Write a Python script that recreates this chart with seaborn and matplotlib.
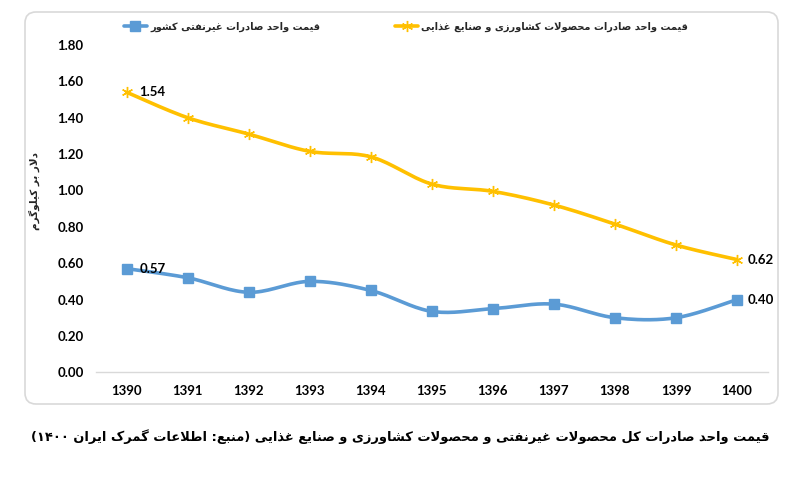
import re
import numpy as np
import pandas as pd
import matplotlib
matplotlib.use("Agg")
import matplotlib.pyplot as plt
import seaborn as sns
from matplotlib.patches import FancyBboxPatch
from matplotlib.lines import Line2D
from matplotlib.transforms import IdentityTransform

# ---------------- data ----------------
years = ["1390", "1391", "1392", "1393", "1394", "1395", "1396", "1397", "1398", "1399", "1400"]
nonoil_price = [0.57, 0.52, 0.44, 0.50, 0.45, 0.335, 0.35, 0.375, 0.30, 0.30, 0.40]
agri_price = [1.54, 1.40, 1.31, 1.215, 1.185, 1.035, 0.995, 0.92, 0.815, 0.70, 0.62]
yticks = [0.0, 0.2, 0.4, 0.6, 0.8, 1.0, 1.2, 1.4, 1.6, 1.8]
label_nonoil = "قیمت واحد صادرات غیرنفتی کشور"
label_agri = "قیمت واحد صادرات محصولات کشاورزی و صنایع غذایی"
ylabel_text = "دلار بر کیلوگرم"
title_text = "قیمت واحد صادرات کل محصولات غیرنفتی و محصولات کشاورزی و صنایع غذایی (منبع: اطلاعات گمرک ایران ۱۴۰۰)"

# ---------------- Persian shaping (presentation forms + visual order) ----------------
_F = {
    'ا': ('\uFE8D', '\uFE8E', None, None),
    'ب': ('\uFE8F', '\uFE90', '\uFE91', '\uFE92'),
    'پ': ('\uFB56', '\uFB57', '\uFB58', '\uFB59'),
    'ت': ('\uFE95', '\uFE96', '\uFE97', '\uFE98'),
    'ث': ('\uFE99', '\uFE9A', '\uFE9B', '\uFE9C'),
    'ج': ('\uFE9D', '\uFE9E', '\uFE9F', '\uFEA0'),
    'چ': ('\uFB7A', '\uFB7B', '\uFB7C', '\uFB7D'),
    'ح': ('\uFEA1', '\uFEA2', '\uFEA3', '\uFEA4'),
    'خ': ('\uFEA5', '\uFEA6', '\uFEA7', '\uFEA8'),
    'د': ('\uFEA9', '\uFEAA', None, None),
    'ذ': ('\uFEAB', '\uFEAC', None, None),
    'ر': ('\uFEAD', '\uFEAE', None, None),
    'ز': ('\uFEAF', '\uFEB0', None, None),
    'ژ': ('\uFB8A', '\uFB8B', None, None),
    'س': ('\uFEB1', '\uFEB2', '\uFEB3', '\uFEB4'),
    'ش': ('\uFEB5', '\uFEB6', '\uFEB7', '\uFEB8'),
    'ص': ('\uFEB9', '\uFEBA', '\uFEBB', '\uFEBC'),
    'ض': ('\uFEBD', '\uFEBE', '\uFEBF', '\uFEC0'),
    'ط': ('\uFEC1', '\uFEC2', '\uFEC3', '\uFEC4'),
    'ظ': ('\uFEC5', '\uFEC6', '\uFEC7', '\uFEC8'),
    'ع': ('\uFEC9', '\uFECA', '\uFECB', '\uFECC'),
    'غ': ('\uFECD', '\uFECE', '\uFECF', '\uFED0'),
    'ف': ('\uFED1', '\uFED2', '\uFED3', '\uFED4'),
    'ق': ('\uFED5', '\uFED6', '\uFED7', '\uFED8'),
    'ک': ('\uFB8E', '\uFB8F', '\uFB90', '\uFB91'),
    'گ': ('\uFB92', '\uFB93', '\uFB94', '\uFB95'),
    'ل': ('\uFEDD', '\uFEDE', '\uFEDF', '\uFEE0'),
    'م': ('\uFEE1', '\uFEE2', '\uFEE3', '\uFEE4'),
    'ن': ('\uFEE5', '\uFEE6', '\uFEE7', '\uFEE8'),
    'ه': ('\uFEE9', '\uFEEA', '\uFEEB', '\uFEEC'),
    'و': ('\uFEED', '\uFEEE', None, None),
    'ی': ('\uFBFC', '\uFBFD', '\uFBFE', '\uFBFF'),
}
_MIRROR = {'(': ')', ')': '(', '[': ']', ']': '['}


def fa(text):
    ch = list(text)
    n = len(ch)
    out = []
    i = 0
    while i < n:
        c = ch[i]
        if c not in _F:
            out.append(c)
            i += 1
            continue
        prev = ch[i - 1] if i > 0 else None
        jp = prev in _F and _F[prev][2] is not None
        if c == 'ل' and i + 1 < n and ch[i + 1] == 'ا':
            out.append('\uFEFC' if jp else '\uFEFB')
            i += 2
            continue
        nxt = ch[i + 1] if i + 1 < n else None
        jn = _F[c][2] is not None and nxt in _F
        iso, fin, ini, med = _F[c]
        out.append(med if (jp and jn) else fin if jp else ini if jn else iso)
        i += 1
    s = ''.join(out)
    toks = re.findall(r'[0-9\u06F0-\u06F9]+|[^0-9\u06F0-\u06F9]', s)
    toks = [_MIRROR.get(t, t) for t in toks[::-1]]
    return ''.join(toks)


# ---------------- style ----------------
sns.set_theme(style="white")
plt.rcParams['font.family'] = ['Lato', 'DejaVu Sans']
plt.rcParams['font.weight'] = 'bold'
AR = ['DejaVu Sans']

BLUE = "#5B9BD5"
YELLOW = "#FFC000"

W, H = 807, 498
fig = plt.figure(figsize=(W / 100, H / 100), dpi=100)
ax = fig.add_axes([96.2 / W, 1 - 372.3 / H, (767.5 - 96.2) / W, (372.3 - 45) / H])
renderer = fig.canvas.get_renderer()


def fit_size(txt, size, target_px, vertical=False):
    t = fig.text(0, 0, txt, family=AR, fontweight='bold', fontsize=size)
    bb = t.get_window_extent(renderer)
    w = bb.width
    t.remove()
    return size * target_px / w


# outer rounded border
box = FancyBboxPatch((25, H - 404), 778 - 25, 404 - 12,
                     boxstyle="round,pad=0,rounding_size=11",
                     transform=IdentityTransform(), facecolor="none",
                     edgecolor="#D9D9D9", linewidth=1.2, zorder=0)
fig.patches.append(box)

x = np.arange(len(years))


def smooth(xs, ys, k=20):
    xs = np.asarray(xs, float)
    ys = np.asarray(ys, float)
    P = np.column_stack([xs, ys])
    pts = []
    m = len(P)
    t = np.linspace(0, 1, k)[:, None]
    for i in range(m - 1):
        p0 = P[i - 1] if i > 0 else P[i]
        p1 = P[i]
        p2 = P[i + 1]
        p3 = P[i + 2] if i + 2 < m else P[i + 1]
        c1 = p1 + (p2 - p0) / 6
        c2 = p2 - (p3 - p1) / 6
        seg = ((1 - t) ** 3) * p1 + 3 * ((1 - t) ** 2) * t * c1 + 3 * (1 - t) * t ** 2 * c2 + t ** 3 * p2
        pts.append(seg if i == 0 else seg[1:])
    a = np.vstack(pts)
    return a[:, 0], a[:, 1]


for vals, col, mk, ms in [(nonoil_price, BLUE, 's', 6.5), (agri_price, YELLOW, (6, 2, 0), 8)]:
    sx, sy = smooth(x, vals)
    sns.lineplot(x=sx, y=sy, ax=ax, color=col, linewidth=2.6, sort=False,
                 estimator=None, legend=False)
    ax.plot(x, vals, linestyle='none', marker=mk, markersize=ms, color=col,
            markeredgecolor=col, markeredgewidth=1.0, zorder=4)

# data labels
lab_kw = dict(fontsize=9.5, fontweight='bold', color='black', va='center', ha='left')
ax.annotate(f"{agri_price[0]:.2f}", (x[0], agri_price[0]), xytext=(9, 0), textcoords='offset points', **lab_kw)
ax.annotate(f"{nonoil_price[0]:.2f}", (x[0], nonoil_price[0]), xytext=(9, 0), textcoords='offset points', **lab_kw)
ax.annotate(f"{agri_price[-1]:.2f}", (x[-1], agri_price[-1]), xytext=(8, 0), textcoords='offset points', **lab_kw)
ax.annotate(f"{nonoil_price[-1]:.2f}", (x[-1], nonoil_price[-1]), xytext=(8, 0), textcoords='offset points', **lab_kw)

ax.set_xlim(-0.5, len(years) - 0.5)
ax.set_ylim(0, 1.8)
ax.set_xticks(x)
ax.set_xticklabels(years)
ax.set_yticks(yticks)
ax.set_yticklabels([f"{v:.2f}" for v in yticks])
ax.tick_params(axis='both', length=0, labelsize=9.5, colors='black')
ax.tick_params(axis='y', pad=9)
ax.tick_params(axis='x', pad=9)
for lab in ax.get_xticklabels() + ax.get_yticklabels():
    lab.set_fontweight('bold')
ax.grid(False)
for s in ['top', 'right', 'left']:
    ax.spines[s].set_visible(False)
ax.spines['bottom'].set_color('#D9D9D9')
ax.spines['bottom'].set_linewidth(1.0)
ax.set_facecolor('none')

yl_size = fit_size(fa(ylabel_text), 9, 78)
ax.set_ylabel(fa(ylabel_text), family=AR, fontsize=yl_size, fontweight='bold', rotation=90)
ax.yaxis.set_label_coords(-0.084, 0.554)
ax.set_xlabel("")

# legend
leg_size = fit_size(fa(label_agri), 9, 268)
handles = [
    Line2D([0], [0], color=BLUE, lw=2.6, marker='s', markersize=6.5),
    Line2D([0], [0], color=YELLOW, lw=2.6, marker=(6, 2, 0), markersize=8),
]
leg = fig.legend(handles, [fa(label_nonoil), fa(label_agri)], loc='center',
                 bbox_to_anchor=(0.503, 1 - 27 / H), ncol=2, frameon=False,
                 prop={'family': AR, 'weight': 'bold', 'size': leg_size},
                 handlelength=2.4, handletextpad=0.3, columnspacing=7.5)

title_size = fit_size(fa(title_text), 10, 740)
fig.text(0.496, 1 - 437 / H, fa(title_text), ha='center', va='center',
         family=AR, fontsize=title_size, fontweight='bold', color='black')

fig.savefig("out.png", dpi=100)
